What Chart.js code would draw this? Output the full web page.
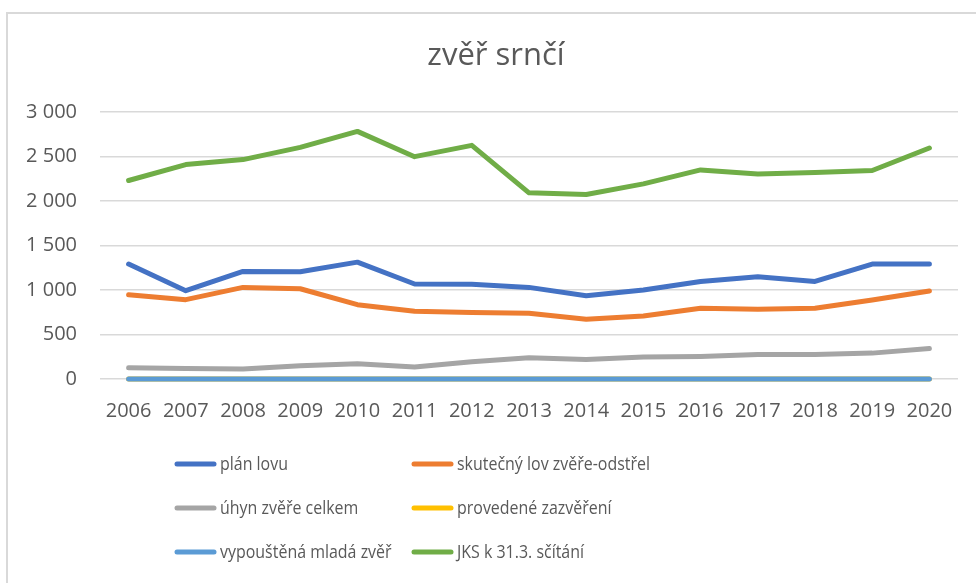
<!DOCTYPE html>
<html>
<head>
<meta charset="utf-8">
<script src="https://cdn.jsdelivr.net/npm/chart.js@4.4.1/dist/chart.umd.min.js"></script>
<style>
  html, body { margin: 0; padding: 0; background: #fff; overflow: hidden; }
  #wrap { position: relative; width: 976px; height: 583px; overflow: hidden; }
  #frame { position: absolute; left: 6px; top: 12px; width: 980px; height: 600px; border: 2px solid #d9d9d9; box-sizing: border-box; }
  canvas { position: absolute; left: 0; top: 0; }
</style>
</head>
<body>
<div id="wrap">
  <div id="frame"></div>
  <canvas id="c" width="992" height="583"></canvas>
</div>
<script>
const title = "zvěř srnčí";
const years = ["2006","2007","2008","2009","2010","2011","2012","2013","2014","2015","2016","2017","2018","2019","2020"];
const seriesNames = ["plán lovu","skutečný lov zvěře-odstřel","úhyn zvěře celkem","provedené zazvěření","vypouštěná mladá zvěř","JKS k 31.3. sčítání"];
const planLovu   = [1292, 993, 1209, 1205, 1314, 1068, 1065, 1030, 937, 1000, 1097, 1150, 1097, 1292, 1292];
const skutecnyLov = [948, 892, 1030, 1015, 836, 761, 748, 739, 672, 709, 795, 784, 795, 889, 990];
const uhyn       = [127, 118, 112, 150, 172, 134, 194, 239, 220, 246, 254, 276, 276, 291, 343];
const zazvereni  = [0, 0, 0, 0, 0, 0, 0, 0, 0, 0, 0, 0, 0, 0, 0];
const vypustena  = [0, 0, 0, 0, 0, 0, 0, 0, 0, 0, 0, 0, 0, 0, 0];
const jks        = [2232, 2411, 2467, 2605, 2784, 2500, 2627, 2093, 2075, 2194, 2351, 2306, 2321, 2344, 2597];
const yTicks = [0, 500, 1000, 1500, 2000, 2500, 3000];

const allSeries = [planLovu, skutecnyLov, uhyn, zazvereni, vypustena, jks];
const colors = ["#4472C4", "#ED7D31", "#A5A5A5", "#FFC000", "#5B9BD5", "#70AD47"];
const TEXT = "#595959";
const FONT = "'Open Sans', 'Noto Sans', sans-serif";

const datasets = allSeries.map((d, i) => ({
  label: seriesNames[i],
  data: d,
  borderColor: colors[i],
  backgroundColor: colors[i],
  borderWidth: 5,
  borderCapStyle: 'round',
  borderJoinStyle: 'round',
  pointRadius: 0,
  pointHoverRadius: 0,
  tension: 0,
  fill: false,
  clip: false,
  yAxisID: 'y',
  order: allSeries.length - i
}));

const fmt = v => String(v).replace(/\B(?=(\d{3})+(?!\d))/g, ' ');

const customLegend = {
  id: 'customLegend',
  afterDraw(chart, args, opts) {
    const ctx = chart.ctx;
    const area = chart.chartArea;
    ctx.save();
    ctx.font = opts.fontSize + "px " + FONT;
    ctx.fillStyle = TEXT;
    ctx.textBaseline = 'middle';
    ctx.textAlign = 'left';
    chart.data.datasets.forEach((ds, i) => {
      const col = i % 2, row = Math.floor(i / 2);
      const x = opts.colX[col];
      const y = area.bottom + opts.firstRowOffset + row * opts.rowGap;
      ctx.strokeStyle = ds.borderColor;
      ctx.lineWidth = 5;
      ctx.lineCap = 'round';
      ctx.beginPath();
      ctx.moveTo(x, y);
      ctx.lineTo(x + opts.lineLen, y);
      ctx.stroke();
      ctx.save();
      ctx.translate(x + opts.lineLen + opts.gap, y + 1);
      ctx.scale(opts.textScaleX, 1);
      ctx.fillText(ds.label, 0, 0);
      ctx.restore();
    });
    ctx.restore();
  }
};

new Chart(document.getElementById('c'), {
  type: 'line',
  data: { labels: years, datasets },
  plugins: [customLegend],
  options: {
    responsive: false,
    animation: false,
    events: [],
    layout: { padding: { left: 0, right: 0, top: 0, bottom: 0 } },
    plugins: {
      legend: { display: false },
      tooltip: { enabled: false },
      title: {
        display: true,
        text: title,
        color: TEXT,
        font: { family: FONT, size: 31, weight: '400' },
        padding: { top: 38, bottom: 37 }
      },
      customLegend: {
        colX: [177, 414],
        lineLen: 37,
        gap: 6,
        firstRowOffset: 85,
        rowGap: 44,
        fontSize: 19,
        textScaleX: 0.84
      }
    },
    scales: {
      x: {
        offset: true,
        grid: { display: false, drawTicks: false },
        border: { display: false },
        ticks: { color: TEXT, font: { family: FONT, size: 20 }, padding: 20, maxRotation: 0, autoSkip: false },
        afterFit: s => { s.height = 204; }
      },
      y: {
        min: 0, max: 3000,
        afterBuildTicks: s => { s.ticks = yTicks.map(v => ({ value: v })); },
        grid: { color: '#d9d9d9', lineWidth: 1.5, drawTicks: false },
        border: { display: false },
        ticks: { color: TEXT, font: { family: FONT, size: 20 }, padding: 23, callback: v => fmt(v) },
        afterFit: s => { s.width = 100; }
      },
      ySpacer: {
        position: 'right',
        display: true,
        min: 0, max: 1,
        grid: { display: false, drawTicks: false },
        border: { display: false },
        ticks: { display: false },
        afterFit: s => { s.width = 34; }
      }
    }
  }
});
</script>
</body>
</html>
